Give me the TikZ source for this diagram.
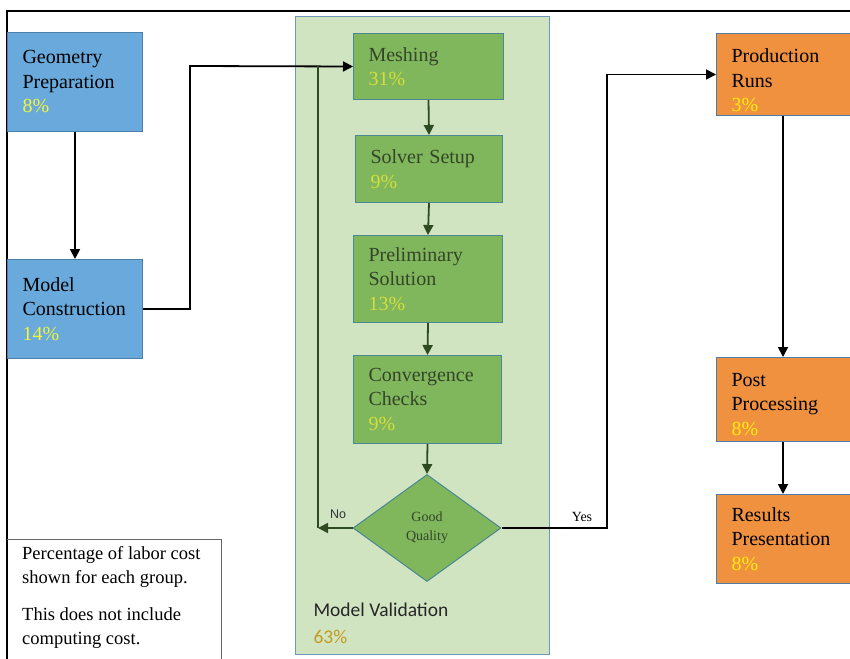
\documentclass[tikz,border=0pt]{standalone}
\usepackage{fontspec}
\setmainfont{Liberation Serif}
\newfontfamily\carl{Carlito}
\newfontfamily\lsans{Liberation Sans}
\usetikzlibrary{shapes.geometric,arrows.meta,calc}
\definecolor{bfill}{HTML}{69A9DC}
\definecolor{bdraw}{HTML}{4A7EAB}
\definecolor{gfill}{HTML}{80B65C}
\definecolor{gdraw}{HTML}{4C8794}
\definecolor{cfill}{HTML}{D0E4C1}
\definecolor{cdraw}{HTML}{6F97BB}
\definecolor{ofill}{HTML}{F0913F}
\definecolor{gtext}{HTML}{34452A}
\definecolor{gpct}{HTML}{D5DF3C}
\definecolor{ypct}{HTML}{F2F53A}
\definecolor{opct}{HTML}{FFEE10}
\definecolor{gold}{HTML}{C49B22}
\definecolor{garrow}{HTML}{2E4A20}
\definecolor{ngray}{HTML}{666666}
\tikzset{
  box/.style={draw, line width=1pt, anchor=north west, inner xsep=15pt, inner ysep=0pt,
    align=left, font=\fontsize{20}{24.5}\selectfont},
  bbox/.style={box, fill=bfill, draw=bdraw, text=black},
  gbox/.style={box, fill=gfill, draw=gdraw, text=gtext},
  obox/.style={box, fill=ofill, draw=bdraw, text=black},
  blk/.style={line width=1.8pt, draw=black, -{Triangle[length=10pt,width=10pt]}},
  grn/.style={line width=1.8pt, draw=garrow, -{Triangle[length=10pt,width=10pt]}},
  grnline/.style={line width=1.8pt, draw=garrow},
}
\begin{document}
\begin{tikzpicture}[x=1pt,y=-1pt]
\useasboundingbox (0,0) rectangle (850,658);
\clip (0,0) rectangle (850,658);
\fill[white] (0,0) rectangle (850,658);
% outer frame
\draw[line width=1.5pt] (7,670) |- (870,11);
% container
\node[draw=cdraw, fill=cfill, line width=1pt, anchor=north west, minimum width=254pt, minimum height=638pt, inner sep=0pt] (cont) at (295,16) {};
\node[anchor=base west, font=\carl\fontsize{19.5}{22}\selectfont, text=black!85] (mv) at (310,616) {Model Validation};
\node[anchor=base west, font=\carl\fontsize{19.5}{22}\selectfont, text=gold] (mvp) at (310,643) {63\%};
% blue boxes
\node[bbox, minimum width=135pt, minimum height=99pt, text width=105pt] (geo) at (7,32) {Geometry\\Preparation\\\textcolor{ypct}{8\%}};
\node[bbox, minimum width=135pt, minimum height=99pt, text width=105pt] (mc) at (7,259) {Model\\Construction\\\textcolor{ypct}{14\%}};
% green boxes
\node[gbox, minimum width=150pt, minimum height=66pt, text width=120pt] (mesh) at (353,33) {Meshing\\\textcolor{gpct}{31\%}};
\node[gbox, minimum width=147pt, minimum height=67pt, text width=117pt] (solver) at (355,135) {Solver Setup\\\textcolor{gpct}{9\%}};
\node[gbox, minimum width=149pt, minimum height=87pt, text width=119pt] (prelim) at (353,235) {Preliminary\\Solution\\\textcolor{gpct}{13\%}};
\node[gbox, minimum width=148pt, minimum height=88pt, text width=118pt] (conv) at (353,355) {Convergence\\Checks\\\textcolor{gpct}{9\%}};
\node[diamond, draw=gdraw, fill=gfill, line width=1pt, minimum width=148pt, minimum height=107pt, inner sep=0pt, align=center, text=gtext, font=\fontsize{14}{19}\selectfont] (dia) at (427,528) {Good\\Quality};
% orange boxes
\node[obox, minimum width=150pt, minimum height=82pt, text width=120pt] (prod) at (716,33) {\rule{0pt}{26pt}Production\\Runs\\\textcolor{opct}{3\%}};
\node[obox, minimum width=150pt, minimum height=84pt, text width=120pt] (post) at (716,357) {\rule{0pt}{23pt}Post\\Processing\\\textcolor{opct}{8\%}};
\node[obox, minimum width=150pt, minimum height=89pt, text width=120pt] (res) at (716,494) {Results\\Presentation\\\textcolor{opct}{8\%}};
% note
\draw[ngray, line width=1pt] (7,539) -| (221,670);
\node[anchor=north west, align=left, inner sep=0pt, font=\fontsize{18.5}{24}\selectfont] (note) at (22,546) {Percentage of labor cost\\shown for each group.\\[13pt]This does not include\\computing cost.};
% connectors
\draw[blk] (geo.south) -- (mc.north);
\coordinate (jc) at (190,66);
\draw[blk] (mc.east) -| (jc) -- (mesh.west);
\draw[grn] (mesh.south) -- (solver.north);
\draw[grn] (solver.south) -- (prelim.north);
\draw[grn] (prelim.south) -- (conv.north);
\draw[grn] (conv.south) -- (dia.north);
\coordinate (lp) at (318,528);
\draw[grn] (dia.west) -- (lp);
\draw[grnline] (lp) -- (lp |- mesh.west);
\node[font=\lsans\fontsize{12.5}{14}\selectfont, text=black!80] (no) at (338,514) {No};
\coordinate (yc) at (607,528);
\draw[blk] (dia.east) -- (yc) |- (prod.west);
\node[font=\fontsize{14}{16}\selectfont] (yes) at (582,517) {Yes};
\draw[blk] ([xshift=67pt]prod.south west) -- ([xshift=67pt]post.north west);
\draw[blk] ([xshift=67pt]post.south west) -- ([xshift=67pt]res.north west);
\end{tikzpicture}
\end{document}
